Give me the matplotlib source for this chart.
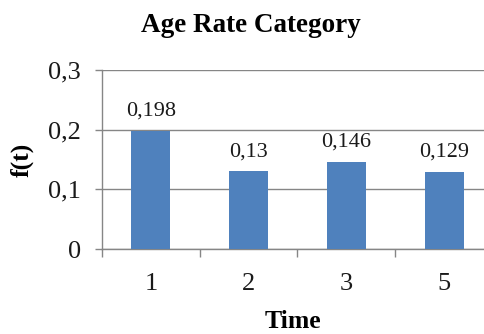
import matplotlib
matplotlib.use("Agg")
import matplotlib.pyplot as plt
from matplotlib.ticker import FuncFormatter

categories = ["1", "2", "3", "5"]
values = [0.198, 0.13, 0.146, 0.129]
value_labels = ["0,198", "0,13", "0,146", "0,129"]
yticks = [0, 0.1, 0.2, 0.3]

plt.rcParams['font.family'] = ['Liberation Serif', 'DejaVu Serif']

fig = plt.figure(figsize=(4.85, 3.34), dpi=100)
W, H = 485, 334
left, right, top, bottom = 102, 493, 70, 249
ax = fig.add_axes([left / W, 1 - bottom / H, (right - left) / W, (bottom - top) / H])

x = list(range(len(categories)))
ax.bar(x, values, width=0.4, color="#4F81BD", zorder=3)
for xi, v, lab in zip(x, values, value_labels):
    ax.annotate(lab, (xi, v), xytext=(0, 11), textcoords="offset points",
                ha="center", va="baseline", fontsize=16, color="#1a1a1a")

ax.set_xlim(-0.5, len(categories) - 0.5)
ax.set_ylim(0, 0.3)
ax.set_yticks(yticks)
ax.yaxis.set_major_formatter(FuncFormatter(lambda v, p: ("%g" % round(v, 3)).replace(".", ",")))
ax.set_xticks(x)
ax.set_xticklabels(categories)
ax.set_xticks([i - 0.5 for i in range(len(categories) + 1)], minor=True)
ax.tick_params(axis="x", which="major", length=0, pad=17, labelsize=19, labelcolor="#1a1a1a")
ax.tick_params(axis="x", which="minor", length=6, color="#868686", width=1, direction="out")
ax.tick_params(axis="y", length=5, color="#868686", width=1, pad=10, labelsize=19, labelcolor="#1a1a1a")

ax.grid(axis="y", color="#868686", linewidth=1, zorder=0)
for s in ["top", "right"]:
    ax.spines[s].set_visible(False)
for s in ["left", "bottom"]:
    ax.spines[s].set_color("#868686")
    ax.spines[s].set_linewidth(1)

fig.text(251 / W, 1 - 25 / H, "Age Rate Category", ha="center", va="center", fontsize=19.5, fontweight="bold")
fig.text(293 / W, 1 - 321 / H, "Time", ha="center", va="center", fontsize=18.5, fontweight="bold")
fig.text(22 / W, 1 - 160 / H, "f(t)", ha="center", va="center", rotation=90, fontsize=18.5, fontweight="bold")

fig.savefig("out.png", dpi=100)
